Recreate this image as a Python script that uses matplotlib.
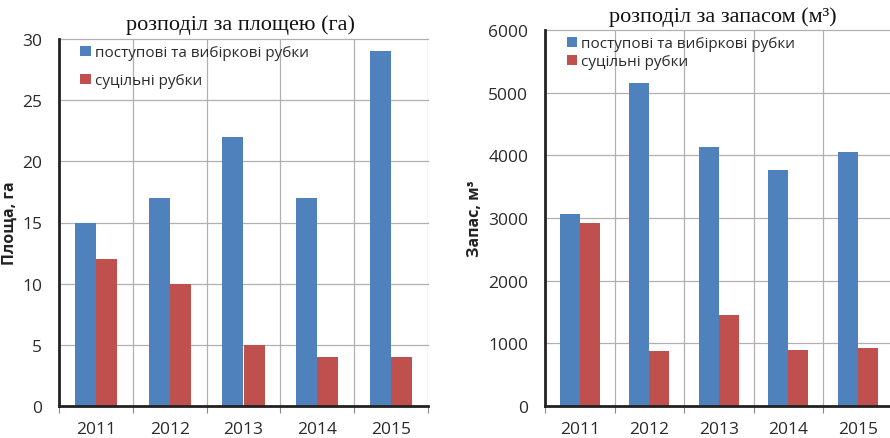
import numpy as np
import matplotlib.pyplot as plt

# дані
years = ['2011', '2012', '2013', '2014', '2015']
area_sel = [15, 17, 22, 17, 29]
area_clear = [12, 10, 5, 4, 4]
vol_sel = [3060, 5150, 4130, 3760, 4060]
vol_clear = [2920, 870, 1450, 890, 930]

lbl_sel = 'поступові та вибіркові рубки'
lbl_clear = 'суцільні рубки'

blue = '#4F81BD'
red = '#C0504D'
txt = '#2a2a2a'

plt.rcParams['font.family'] = ['Open Sans', 'DejaVu Sans']

fig = plt.figure(figsize=(8.9, 4.39), dpi=100)
ax1 = fig.add_axes([59/890, 32/439, (428-59)/890, (407-40)/439])
ax2 = fig.add_axes([545/890, 32/439, (892.5-545)/890, (407-31)/439])


def draw(ax, a, b, ymax, ystep):
    x = np.arange(len(years))
    w = 0.285
    ax.bar(x - w/2, a, w, color=blue, label=lbl_sel, zorder=3)
    ax.bar(x + w/2, b, w, color=red, label=lbl_clear, zorder=3)
    ax.set_xlim(-0.5, len(years) - 0.5)
    ax.set_ylim(0, ymax)
    ax.set_yticks(np.arange(0, ymax + 1, ystep))
    ax.set_xticks(x)
    ax.set_xticklabels(years)
    ax.set_xticks(np.arange(-0.5, len(years)), minor=True)
    ax.tick_params(axis='x', which='major', length=0, pad=11, labelsize=12.5, labelcolor=txt)
    ax.tick_params(axis='x', which='minor', length=5, width=0.8, color='#888888', direction='out')
    ax.tick_params(axis='y', length=0, pad=12, labelsize=12.5, labelcolor=txt)
    ax.grid(True, axis='y', color='#b0b0b0', lw=0.9, zorder=0, clip_on=False)
    ax.grid(True, axis='x', which='minor', color='#b0b0b0', lw=0.9, zorder=0)
    for s in ['top', 'right']:
        ax.spines[s].set_visible(False)
    for s in ['left', 'bottom']:
        ax.spines[s].set_linewidth(2)
        ax.spines[s].set_color('#222222')
        ax.spines[s].set_zorder(4)


draw(ax1, area_sel, area_clear, 30, 5)
draw(ax2, vol_sel, vol_clear, 6000, 1000)

ax1.legend(loc='upper left', bbox_to_anchor=(0.02, 1.02), frameon=False, fontsize=11,
           handlelength=0.7, handleheight=0.7, handletextpad=0.25, labelspacing=0.85,
           labelcolor=txt)
ax2.legend(loc='upper left', bbox_to_anchor=(0.023, 1.02), frameon=False, fontsize=11,
           handlelength=0.7, handleheight=0.7, handletextpad=0.25, labelspacing=0.2,
           labelcolor=txt)

ax1.set_ylabel('Площа, га', fontsize=11.5, fontweight='bold', color='#222222')
ax1.yaxis.set_label_coords(-0.112, 0.5)
ax2.set_ylabel('Запас, м³', fontsize=11.5, fontweight='bold', color='#222222')
ax2.yaxis.set_label_coords(-0.178, 0.5)

fig.text(241/890, 1 - 25/439, 'розподіл за площею (га)', family='Liberation Serif',
         fontsize=16, ha='center', va='center', color='#111111')
fig.text(723/890, 1 - 17/439, 'розподіл за запасом (м³)', family='Liberation Serif',
         fontsize=16, ha='center', va='center', color='#111111')

fig.savefig('out.png', dpi=100)
